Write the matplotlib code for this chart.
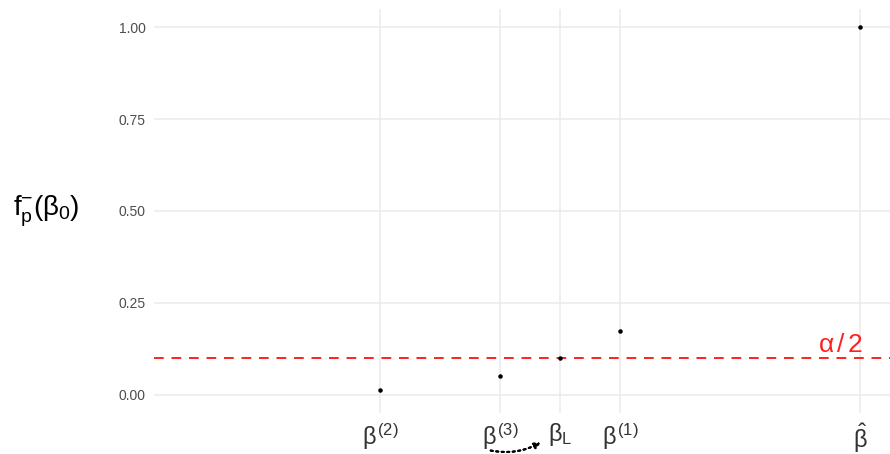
import matplotlib.pyplot as plt

plt.rcParams['font.family'] = ['Liberation Sans', 'DejaVu Sans']
plt.rcParams['mathtext.fontset'] = 'custom'
plt.rcParams['mathtext.rm'] = 'Liberation Sans'
plt.rcParams['mathtext.it'] = 'Liberation Sans'
plt.rcParams['mathtext.bf'] = 'Liberation Sans:bold'

# candidate beta values and their p-value function
beta_pos = [2, 4, 5, 6, 10]
p_values = [0.014, 0.052, 0.10, 0.174, 1.0]
beta_labels = [r'$\beta^{(2)}$', r'$\beta^{(3)}$', r'$\beta_\mathrm{L}$',
               r'$\beta^{(1)}$', r'$\hat{\beta}$']
alpha_half = 0.1
y_ticks = [0.0, 0.25, 0.5, 0.75, 1.0]

fig = plt.figure(figsize=(8.9, 4.54), dpi=100)
ax = fig.add_axes([154 / 890, 1 - 413 / 454, 736 / 890, 404 / 454])

grid_col = '#ebebeb'
for y in y_ticks:
    ax.axhline(y, color=grid_col, lw=1.1, zorder=0)
for x in beta_pos:
    ax.axvline(x, color=grid_col, lw=1.1, zorder=0)

ax.axhline(alpha_half, color='#ff2020', lw=1.4, ls=(0, (5, 4)), zorder=1)
ax.scatter(beta_pos, p_values, s=5, color='black', zorder=3)

ax.text(10.05, alpha_half + 0.002, r'$\alpha\,/\,2$', color='#ff2020',
        fontsize=19, ha='right', va='bottom')

ax.set_xlim(-1.767, 10.5)
ax.set_ylim(-0.049, 1.049)
ax.set_xticks(beta_pos)
ax.set_xticklabels(beta_labels, fontsize=17, color='#333333')
ax.set_yticks(y_ticks)
ax.set_yticklabels(['0.00', '0.25', '0.50', '0.75', '1.00'],
                   fontsize=10, color='#4d4d4d')
ax.tick_params(length=0, pad=6)
ax.tick_params(axis='x', pad=6)
for s in ax.spines.values():
    s.set_visible(False)

ax.set_ylabel(r'$\mathrm{f}_\mathrm{p}^{-}(\beta_0)$', fontsize=20,
              rotation=0, ha='center', va='center', labelpad=52)

# dotted arrow from beta^(3) towards beta_L
fig.add_artist(plt.annotate(
    '', xy=(543 / 890, 1 - 441 / 454), xytext=(488 / 890, 1 - 450 / 454),
    xycoords='figure fraction', textcoords='figure fraction',
    arrowprops=dict(arrowstyle='-|>', ls=':', lw=1.5, color='black',
                    connectionstyle='arc3,rad=0.2', mutation_scale=9)))

fig.savefig('out.png', dpi=100, facecolor='white')
